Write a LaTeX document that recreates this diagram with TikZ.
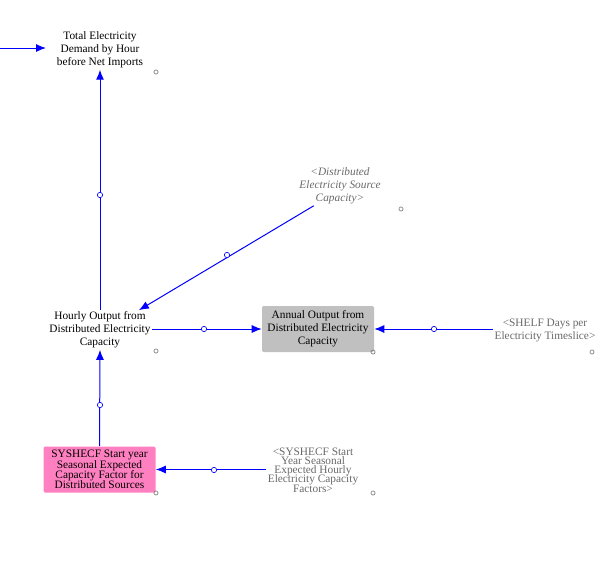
\documentclass[tikz,border=0pt]{standalone}
\usepackage{fontspec}
\setmainfont{Liberation Serif}
\usetikzlibrary{arrows.meta}
\newcommand{\dotsize}{1.1pt}
\newcommand{\tightlines}{\lineskiplimit=-5pt\relax}
\definecolor{linkblue}{RGB}{0,0,255}
\definecolor{shadowgray}{RGB}{105,105,105}
\definecolor{boxgray}{RGB}{192,192,192}
\definecolor{boxpink}{RGB}{255,128,192}

\begin{document}
\begin{tikzpicture}[x=0.75pt,y=-0.75pt,
  font=\fontsize{8.5}{9.75}\selectfont,
  var/.style={align=center, inner sep=1pt},
  shadow/.style={var, text=shadowgray},
  box/.style={var, rounded corners=1pt, minimum width=84pt, minimum height=34.5pt},
  link/.style={draw=linkblue, line width=0.75pt, -{Latex[length=7.5pt,width=6pt]}},
  mid/.style={draw=linkblue, fill=white, circle, inner sep=1.4pt, line width=0.5pt},
  corner/.style={draw=shadowgray, circle, inner sep=\dotsize, line width=0.4pt}]
\useasboundingbox (0,0) rectangle (609,575);

% variables
\node (total) at (100,50) [var] {Total Electricity\\Demand by Hour\\before Net Imports};
\node (dist) at (340,186) [shadow] {\itshape <Distributed\\\itshape Electricity Source\\\itshape Capacity>};
\node (hourly) at (100,330) [var] {Hourly Output from\\Distributed Electricity\\Capacity};
\node (annual) at (318,329) [box, fill=boxgray] {Annual Output from\\Distributed Electricity\\Capacity};
\node (shelf) at (545,330) [shadow] {<SHELF Days per\\Electricity Timeslice>};
\node (factor) at (99.5,469.5) [box, fill=boxpink, font={\fontsize{8.5}{7.8}\selectfont\tightlines}] {SYSHECF Start year\\Seasonal Expected\\Capacity Factor for\\Distributed Sources};
\node (hourlycf) at (313,470) [shadow, font={\fontsize{8.5}{6.9}\selectfont\tightlines}] {<SYSHECF Start\\Year Seasonal\\Expected Hourly\\Electricity Capacity\\Factors>};

% corner marks
\node (c1) at (156,72) [corner] {};
\node (c2) at (401,209) [corner] {};
\node (c3) at (156,351) [corner] {};
\node (c4) at (373,352) [corner] {};
\node (c5) at (592,352) [corner] {};
\node (c6) at (156,493) [corner] {};
\node (c7) at (373,493) [corner] {};

% links
\coordinate (left) at (0,48);
\coordinate (totalin) at (46,48);
\draw[link] (left) to (totalin);
\draw[link] (hourly.north) to (total.south);
\draw[link] (dist.217) to (hourly.27);
\draw[link] (hourly.east |- annual.west) to (annual.west);
\draw[link] (shelf.west |- annual.east) to (annual.east);
\draw[link] (factor.north) to (hourly.south);
\draw[link] (hourlycf.west |- factor.east) to (factor.east);

% link handles
\node (m1) at (100,195) [mid] {};
\node (m2) at (227,255) [mid] {};
\node (m3) at (204,329) [mid] {};
\node (m4) at (434,329) [mid] {};
\node (m5) at (100,405) [mid] {};
\node (m6) at (214,470) [mid] {};

\end{tikzpicture}
\end{document}
